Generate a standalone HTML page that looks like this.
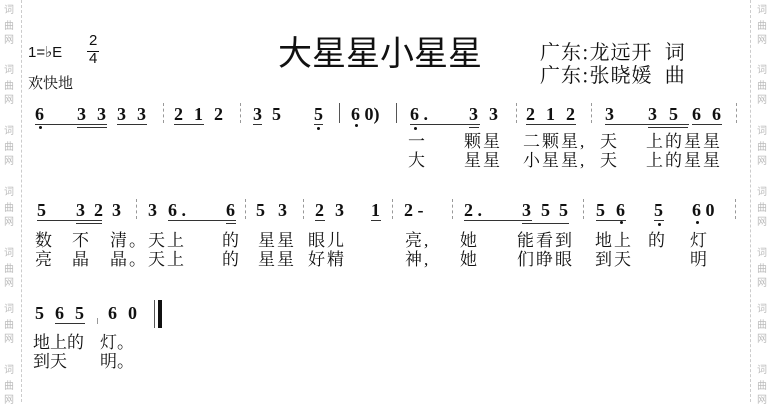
<!DOCTYPE html>
<html><head><meta charset="utf-8"><style>
body{margin:0;width:770px;height:402px;background:#fff;position:relative;overflow:hidden;font-family:"Liberation Serif","Noto Serif CJK SC",serif;color:#111}
span,div{position:absolute}
.n{font-weight:bold;font-size:18px;line-height:18px}
.l{font-size:17px;line-height:18px;white-space:pre;letter-spacing:2px;font-family:"Liberation Serif","Noto Serif CJK SC",serif}
.u{height:1px;background:#333}
.d{width:3px;height:3px;border-radius:2px;background:#111}
.b{width:0;border-left:1px dashed #999;height:20px}
.s{font-size:10px;color:#bbb;font-family:"Noto Sans CJK SC",sans-serif;line-height:12px}
.vl{width:0;border-left:1px dashed #ccc;top:0;height:402px}
</style></head><body>
<div class="vl" style="left:21px"></div><div class="vl" style="left:750px"></div>
<span class="s" style="left:4px;top:3px">词</span><span class="s" style="left:4px;top:19px">曲</span><span class="s" style="left:4px;top:33px">网</span>
<span class="s" style="left:4px;top:63px">词</span><span class="s" style="left:4px;top:79px">曲</span><span class="s" style="left:4px;top:93px">网</span>
<span class="s" style="left:4px;top:124px">词</span><span class="s" style="left:4px;top:140px">曲</span><span class="s" style="left:4px;top:154px">网</span>
<span class="s" style="left:4px;top:185px">词</span><span class="s" style="left:4px;top:201px">曲</span><span class="s" style="left:4px;top:215px">网</span>
<span class="s" style="left:4px;top:246px">词</span><span class="s" style="left:4px;top:262px">曲</span><span class="s" style="left:4px;top:276px">网</span>
<span class="s" style="left:4px;top:302px">词</span><span class="s" style="left:4px;top:318px">曲</span><span class="s" style="left:4px;top:332px">网</span>
<span class="s" style="left:4px;top:363px">词</span><span class="s" style="left:4px;top:379px">曲</span><span class="s" style="left:4px;top:393px">网</span>
<span class="s" style="left:757px;top:3px">词</span><span class="s" style="left:757px;top:19px">曲</span><span class="s" style="left:757px;top:33px">网</span>
<span class="s" style="left:757px;top:63px">词</span><span class="s" style="left:757px;top:79px">曲</span><span class="s" style="left:757px;top:93px">网</span>
<span class="s" style="left:757px;top:124px">词</span><span class="s" style="left:757px;top:140px">曲</span><span class="s" style="left:757px;top:154px">网</span>
<span class="s" style="left:757px;top:185px">词</span><span class="s" style="left:757px;top:201px">曲</span><span class="s" style="left:757px;top:215px">网</span>
<span class="s" style="left:757px;top:246px">词</span><span class="s" style="left:757px;top:262px">曲</span><span class="s" style="left:757px;top:276px">网</span>
<span class="s" style="left:757px;top:302px">词</span><span class="s" style="left:757px;top:318px">曲</span><span class="s" style="left:757px;top:332px">网</span>
<span class="s" style="left:757px;top:363px">词</span><span class="s" style="left:757px;top:379px">曲</span><span class="s" style="left:757px;top:393px">网</span>

<span style="left:28px;top:43px;font-family:'Liberation Sans',sans-serif;font-size:15px">1=♭E</span>
<span style="left:89px;top:33px;font-family:'Liberation Sans',sans-serif;font-size:15px;line-height:16px">2</span>
<div class="u" style="left:87px;top:51px;width:12px;background:#111"></div>
<span style="left:89px;top:51px;font-family:'Liberation Sans',sans-serif;font-size:15px;line-height:16px">4</span>
<span class="l" style="left:28px;top:75px;font-size:15px;letter-spacing:0">欢快地</span>
<span style="left:278px;top:32px;font-size:34px;line-height:38px;font-family:'Noto Sans CJK SC',sans-serif">大星星小星星</span>
<span style="left:540px;top:39px;font-size:20px;line-height:23px;letter-spacing:1px;font-family:'Noto Serif CJK SC',serif;white-space:pre">广东:龙远开  词
广东:张晓媛  曲</span>

<!-- row 1 -->
<span class="n" style="left:35px;top:105px">6</span>
<span class="n" style="left:77px;top:105px">3</span><span class="n" style="left:97px;top:105px">3</span><span class="n" style="left:117px;top:105px">3</span><span class="n" style="left:137px;top:105px">3</span>
<div class="b" style="left:163px;top:103px"></div>
<span class="n" style="left:174px;top:105px">2</span><span class="n" style="left:194px;top:105px">1</span><span class="n" style="left:214px;top:105px">2</span>
<div class="b" style="left:240px;top:103px"></div>
<span class="n" style="left:253px;top:105px">3</span><span class="n" style="left:272px;top:105px">5</span><span class="n" style="left:314px;top:105px">5</span>
<div class="b" style="left:339px;top:103px;border-left:1px solid #555"></div>
<span class="n" style="left:351px;top:105px">6 0)</span>
<div class="b" style="left:396px;top:103px;border-left:1px solid #555"></div>
<span class="n" style="left:410px;top:105px">6 .</span>
<span class="n" style="left:469px;top:105px">3</span><span class="n" style="left:489px;top:105px">3</span>
<div class="b" style="left:516px;top:103px"></div>
<span class="n" style="left:526px;top:105px">2</span><span class="n" style="left:546px;top:105px">1</span><span class="n" style="left:566px;top:105px">2</span>
<div class="b" style="left:591px;top:103px"></div>
<span class="n" style="left:605px;top:105px">3</span>
<span class="n" style="left:648px;top:105px">3</span><span class="n" style="left:669px;top:105px">5</span><span class="n" style="left:692px;top:105px">6</span><span class="n" style="left:712px;top:105px">6</span>
<div class="b" style="left:736px;top:103px"></div>
<div class="u" style="left:35px;top:124px;width:72px"></div><div class="u" style="left:77px;top:127px;width:30px"></div>
<div class="u" style="left:117px;top:124px;width:30px"></div>
<div class="u" style="left:174px;top:124px;width:30px"></div>
<div class="u" style="left:253px;top:124px;width:9px"></div>
<div class="u" style="left:314px;top:124px;width:9px"></div>
<div class="u" style="left:410px;top:124px;width:70px"></div><div class="u" style="left:469px;top:127px;width:10px"></div>
<div class="u" style="left:526px;top:124px;width:50px"></div>
<div class="u" style="left:605px;top:124px;width:84px"></div><div class="u" style="left:648px;top:127px;width:40px"></div>
<div class="u" style="left:692px;top:124px;width:30px"></div>
<div class="d" style="left:39px;top:126px"></div><div class="d" style="left:317px;top:127px"></div><div class="d" style="left:355px;top:124px"></div><div class="d" style="left:414px;top:127px"></div>
<span class="l" style="left:408px;top:133px">一</span><span class="l" style="left:464px;top:133px">颗星</span><span class="l" style="left:523px;top:133px">二颗星,</span><span class="l" style="left:600px;top:133px">天</span><span class="l" style="left:646px;top:133px">上的星星</span>
<span class="l" style="left:408px;top:152px">大</span><span class="l" style="left:464px;top:152px">星星</span><span class="l" style="left:523px;top:152px">小星星,</span><span class="l" style="left:600px;top:152px">天</span><span class="l" style="left:646px;top:152px">上的星星</span>

<!-- row 2 -->
<span class="n" style="left:37px;top:201px">5</span>
<span class="n" style="left:76px;top:201px">3</span><span class="n" style="left:94px;top:201px">2</span><span class="n" style="left:112px;top:201px">3</span>
<div class="b" style="left:136px;top:199px"></div>
<span class="n" style="left:148px;top:201px">3</span><span class="n" style="left:168px;top:201px">6 .</span><span class="n" style="left:226px;top:201px">6</span>
<div class="b" style="left:245px;top:199px"></div>
<span class="n" style="left:256px;top:201px">5</span><span class="n" style="left:278px;top:201px">3</span>
<div class="b" style="left:303px;top:199px"></div>
<span class="n" style="left:315px;top:201px">2</span><span class="n" style="left:335px;top:201px">3</span><span class="n" style="left:371px;top:201px">1</span>
<div class="b" style="left:392px;top:199px"></div>
<span class="n" style="left:404px;top:201px">2 -</span>
<div class="b" style="left:452px;top:199px"></div>
<span class="n" style="left:464px;top:201px">2 .</span>
<span class="n" style="left:522px;top:201px">3</span><span class="n" style="left:541px;top:201px">5</span><span class="n" style="left:559px;top:201px">5</span>
<div class="b" style="left:583px;top:199px"></div>
<span class="n" style="left:596px;top:201px">5</span><span class="n" style="left:616px;top:201px">6</span><span class="n" style="left:654px;top:201px">5</span><span class="n" style="left:692px;top:201px">6 0</span>
<div class="b" style="left:735px;top:199px"></div>
<div class="u" style="left:37px;top:220px;width:65px"></div><div class="u" style="left:76px;top:223px;width:26px"></div>
<div class="u" style="left:168px;top:220px;width:68px"></div><div class="u" style="left:226px;top:223px;width:10px"></div>
<div class="u" style="left:315px;top:220px;width:10px"></div><div class="u" style="left:371px;top:220px;width:10px"></div>
<div class="u" style="left:464px;top:220px;width:68px"></div><div class="u" style="left:522px;top:223px;width:47px"></div>
<div class="u" style="left:596px;top:220px;width:30px"></div><div class="u" style="left:654px;top:220px;width:10px"></div>
<div class="d" style="left:620px;top:221px"></div><div class="d" style="left:658px;top:223px"></div><div class="d" style="left:696px;top:221px"></div>
<span class="l" style="left:35px;top:232px">数</span><span class="l" style="left:72px;top:232px">不</span><span class="l" style="left:110px;top:232px">清。天上</span><span class="l" style="left:222px;top:232px">的</span><span class="l" style="left:258px;top:232px">星星</span><span class="l" style="left:308px;top:232px">眼儿</span>
<span class="l" style="left:35px;top:251px">亮</span><span class="l" style="left:72px;top:251px">晶</span><span class="l" style="left:110px;top:251px">晶。天上</span><span class="l" style="left:222px;top:251px">的</span><span class="l" style="left:258px;top:251px">星星</span><span class="l" style="left:308px;top:251px">好精</span>
<span class="l" style="left:405px;top:232px">亮,</span><span class="l" style="left:460px;top:232px">她</span><span class="l" style="left:517px;top:232px">能看到</span><span class="l" style="left:595px;top:232px">地上</span><span class="l" style="left:648px;top:232px">的</span><span class="l" style="left:690px;top:232px">灯</span>
<span class="l" style="left:405px;top:251px">神,</span><span class="l" style="left:460px;top:251px">她</span><span class="l" style="left:517px;top:251px">们睁眼</span><span class="l" style="left:595px;top:251px">到天</span><span class="l" style="left:690px;top:251px">明</span>

<!-- row 3 -->
<span class="n" style="left:35px;top:304px">5</span><span class="n" style="left:55px;top:304px">6</span><span class="n" style="left:75px;top:304px">5</span>
<div class="b" style="left:97px;top:318px;height:6px"></div>
<span class="n" style="left:108px;top:304px">6</span><span class="n" style="left:128px;top:304px">0</span>
<div style="left:154px;top:300px;width:1px;height:28px;background:#555"></div>
<div style="left:158px;top:300px;width:4px;height:28px;background:#111"></div>
<div class="u" style="left:55px;top:323px;width:30px"></div>
<span class="l" style="left:33px;top:334px;letter-spacing:0">地上的</span><span class="l" style="left:100px;top:334px;letter-spacing:0">灯。</span>
<span class="l" style="left:33px;top:353px;letter-spacing:0">到天</span><span class="l" style="left:100px;top:353px;letter-spacing:0">明。</span>
</body></html>
